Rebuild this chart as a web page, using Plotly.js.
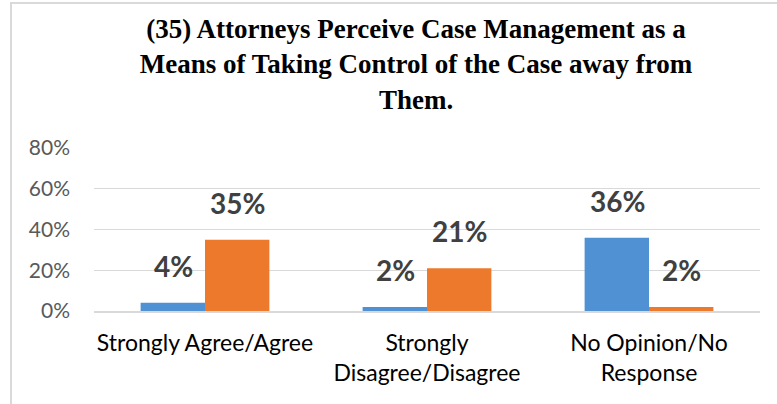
<!DOCTYPE html>
<html>
<head>
<meta charset="utf-8">
<script src="https://cdn.plot.ly/plotly-3.0.1.min.js"></script>
<style>
  html, body { margin: 0; padding: 0; background: #ffffff; }
  #chart { width: 777px; height: 404px; position: relative; }
  #frame { position: absolute; left: 10px; top: 2px; width: 800px; height: 420px;
           border-left: 2px solid #d9d9d9; border-top: 2px solid #d9d9d9; pointer-events: none; }
</style>
</head>
<body>
<div id="chart"></div>
<div id="frame"></div>
<script>
const categories = ["Strongly Agree/Agree", "Strongly<br>Disagree/Disagree", "No Opinion/No<br>Response"];
const seriesA = [4, 2, 36];
const seriesB = [35, 21, 2];
const seriesNames = ["Series 1", "Series 2"];
const yTickVals = [0, 20, 40, 60, 80];
const yTickText = ["0%", "20%", "40%", "60%", "80%"];

const traces = [
  { type: "bar", name: seriesNames[0], x: categories, y: seriesA,
    marker: { color: "#4f91d2" }, hoverinfo: "none" },
  { type: "bar", name: seriesNames[1], x: categories, y: seriesB,
    marker: { color: "#ed7a2c" }, hoverinfo: "none" }
];

const annotations = [];
[seriesA, seriesB].forEach(function (vals, si) {
  vals.forEach(function (v, i) {
    annotations.push({
      xref: "x", yref: "y", x: categories[i], y: v,
      xshift: si === 0 ? -32 : 32, yshift: 18,
      yanchor: "bottom", xanchor: "center",
      text: v + "%", showarrow: false,
      font: { family: "Lato", size: 28, color: "#404040", weight: "bold" }
    });
  });
});

const layout = {
  width: 777, height: 404,
  margin: { l: 94, r: 17, t: 148, b: 93 },
  paper_bgcolor: "#ffffff", plot_bgcolor: "#ffffff",
  showlegend: false,
  barmode: "group", bargap: 0.42, bargroupgap: 0,
  title: {
    text: "<b>(35) Attorneys Perceive Case Management as a<br>Means of Taking Control of the Case away from<br>Them.</b>",
    font: { family: "Liberation Serif", size: 27, color: "#000000" },
    x: 0.4835, xanchor: "center", xref: "paper",
    y: 0.905, yanchor: "top", yref: "container"
  },
  xaxis: {
    type: "category", showgrid: false, zeroline: false,
    showline: true, linecolor: "#d9d9d9", linewidth: 2,
    ticks: "", ticklabelstandoff: 10,
    tickfont: { family: "Lato", size: 23, color: "#000000" }
  },
  yaxis: {
    range: [0, 80], tickvals: yTickVals, ticktext: yTickText,
    showgrid: true, gridcolor: "#d9d9d9", gridwidth: 1,
    zeroline: false, showline: false, ticks: "",
    ticklabelstandoff: 23,
    tickfont: { family: "Lato", size: 21, color: "#595959" }
  },
  annotations: annotations
};

Plotly.newPlot("chart", traces, layout, { displayModeBar: false, staticPlot: true });
</script>
</body>
</html>
